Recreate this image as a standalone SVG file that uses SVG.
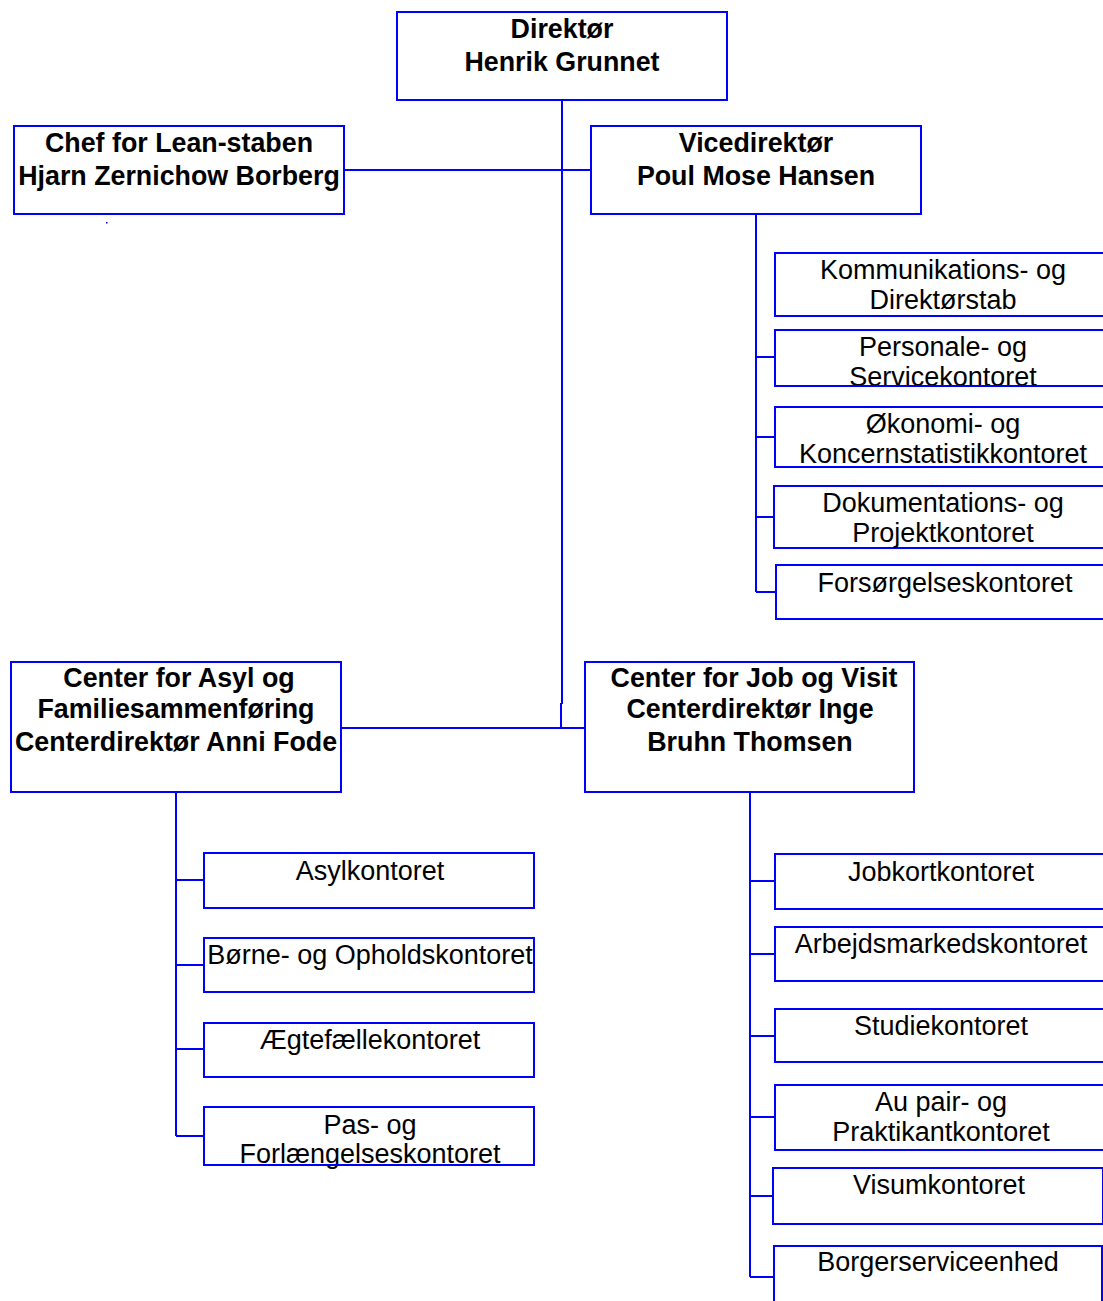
<svg xmlns="http://www.w3.org/2000/svg" width="1103" height="1301" viewBox="0 0 1103 1301">
<style>
.box{fill:#fff;stroke:#0000ff;stroke-width:2}
.ln{fill:none;stroke:#0000ff;stroke-width:2}
.b{font-family:"Liberation Sans",Arial,sans-serif;font-weight:bold;font-size:26.8px;fill:#000;text-anchor:middle}
.r{font-family:"Liberation Sans",Arial,sans-serif;font-size:27px;fill:#000;text-anchor:middle}
</style>
<rect width="1103" height="1301" fill="#fff"/>
<g id="connectors">
<path class="ln" d="M562 100V704M561 703V728M344 170H591M341 728H585"/>
<path class="ln" d="M756 214V592M756 357H775M756 437H775M756 517H774M756 592H776"/>
<path class="ln" d="M176 792V1136M176 880H204M176 965H204M176 1049H204M176 1136H204"/>
<path class="ln" d="M750 792V1277M750 881H775M750 954H775M750 1036H775M750 1117H775M750 1196H773M750 1277H774"/>
<rect x="106" y="222" width="1.5" height="1.5" fill="#0000ff"/>
</g>
<g id="direktor"><rect class="box" x="397" y="12" width="330" height="88"/><text class="b" x="562" y="38">Direktør</text><text class="b" x="562" y="71">Henrik Grunnet</text></g>
<g id="lean"><rect class="box" x="14" y="126" width="330" height="88"/><text class="b" x="179" y="152">Chef for Lean-staben</text><text class="b" x="179" y="185">Hjarn Zernichow Borberg</text></g>
<g id="vice"><rect class="box" x="591" y="126" width="330" height="88"/><text class="b" x="756" y="152">Vicedirektør</text><text class="b" x="756" y="185">Poul Mose Hansen</text></g>
<g id="komm"><rect class="box" x="775" y="253" width="340" height="63"/><text class="r" x="943" y="279">Kommunikations- og</text><text class="r" x="943" y="309">Direktørstab</text></g>
<g id="pers"><rect class="box" x="775" y="330" width="340" height="56" fill-opacity="0"/><text class="r" x="943" y="356">Personale- og</text><text class="r" x="943" y="386">Servicekontoret</text><line class="ln" x1="775" y1="386" x2="1110" y2="386"/></g>
<g id="okon"><rect class="box" x="775" y="407" width="340" height="60"/><text class="r" x="943" y="433">Økonomi- og</text><text class="r" x="943" y="463">Koncernstatistikkontoret</text></g>
<g id="dok"><rect class="box" x="774" y="486" width="340" height="62"/><text class="r" x="943" y="512">Dokumentations- og</text><text class="r" x="943" y="542">Projektkontoret</text></g>
<g id="fors"><rect class="box" x="776" y="565" width="340" height="54"/><text class="r" x="945" y="592">Forsørgelseskontoret</text></g>
<g id="asyl"><rect class="box" x="11" y="662" width="330" height="130"/><text class="b" x="179" y="687">Center for Asyl og</text><text class="b" x="176" y="718">Familiesammenføring</text><text class="b" x="176" y="751">Centerdirektør Anni Fode</text></g>
<g id="job"><rect class="box" x="585" y="662" width="329" height="130"/><text class="b" x="754" y="687">Center for Job og Visit</text><text class="b" x="750" y="718">Centerdirektør Inge</text><text class="b" x="750" y="751">Bruhn Thomsen</text></g>
<g id="asylk"><rect class="box" x="204" y="853" width="330" height="55"/><text class="r" x="370" y="880">Asylkontoret</text></g>
<g id="borne"><rect class="box" x="204" y="938" width="330" height="54"/><text class="r" x="370" y="964">Børne- og Opholdskontoret</text></g>
<g id="aegt"><rect class="box" x="204" y="1023" width="330" height="54"/><text class="r" x="370" y="1049">Ægtefællekontoret</text></g>
<g id="pas"><rect class="box" x="204" y="1107" width="330" height="58" fill-opacity="0"/><text class="r" x="370" y="1134">Pas- og</text><text class="r" x="370" y="1163">Forlængelseskontoret</text><line class="ln" x1="204" y1="1165" x2="534" y2="1165"/></g>
<g id="jobk"><rect class="box" x="775" y="854" width="340" height="55"/><text class="r" x="941" y="881">Jobkortkontoret</text></g>
<g id="arb"><rect class="box" x="775" y="927" width="340" height="54"/><text class="r" x="941" y="953">Arbejdsmarkedskontoret</text></g>
<g id="stud"><rect class="box" x="775" y="1009" width="340" height="53"/><text class="r" x="941" y="1035">Studiekontoret</text></g>
<g id="aupair"><rect class="box" x="775" y="1085" width="340" height="65"/><text class="r" x="941" y="1111">Au pair- og</text><text class="r" x="941" y="1141">Praktikantkontoret</text></g>
<g id="visum"><rect class="box" x="773" y="1168" width="330" height="56"/><text class="r" x="939" y="1194">Visumkontoret</text></g>
<g id="borger"><rect class="box" x="774" y="1246" width="328" height="70"/><text class="r" x="938" y="1271">Borgerserviceenhed</text></g>
</svg>
